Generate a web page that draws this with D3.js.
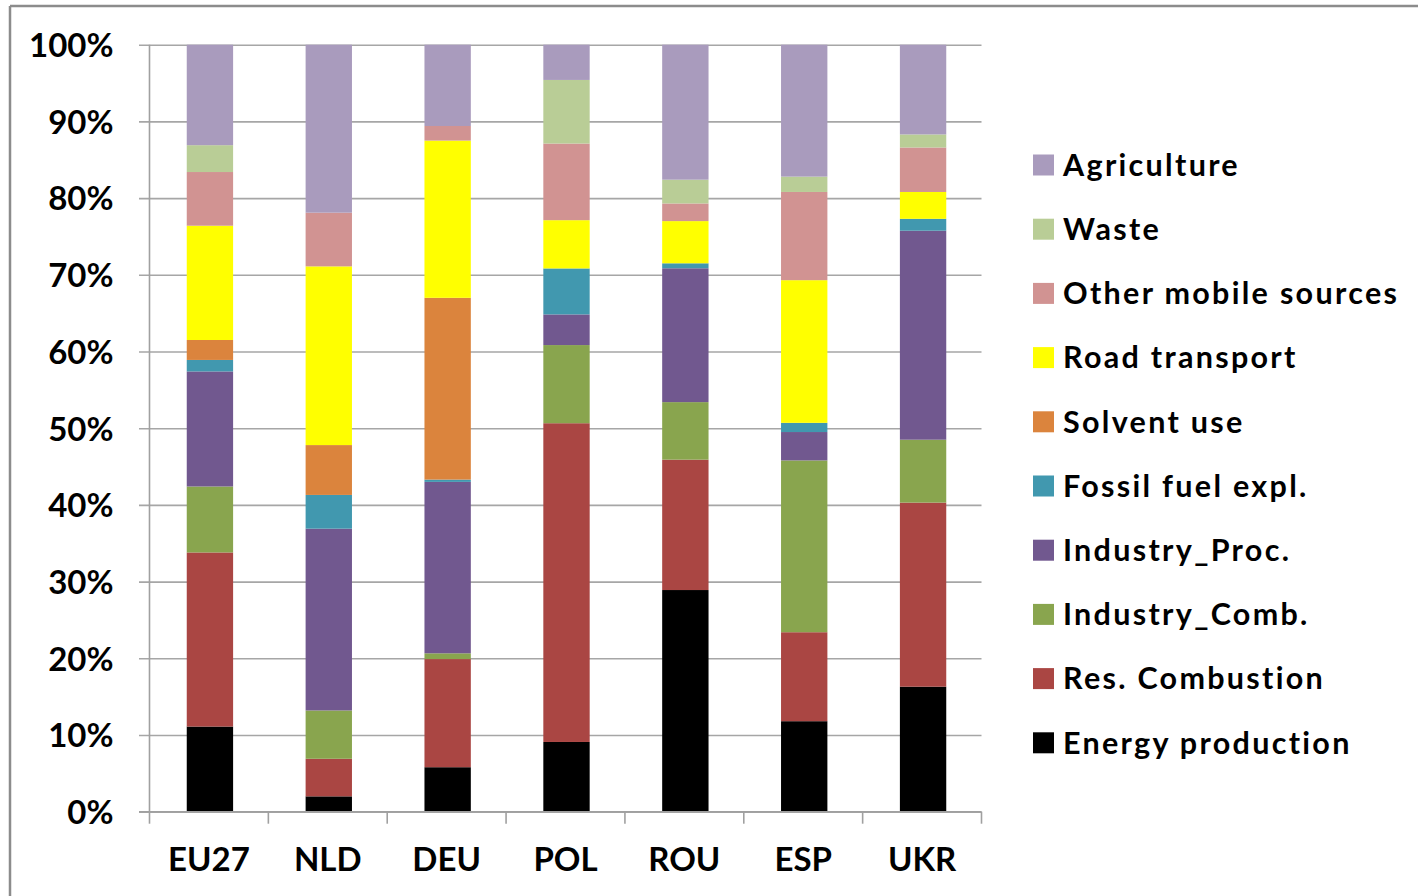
<!DOCTYPE html>
<html>
<head>
<meta charset="utf-8">
<script src="https://cdn.jsdelivr.net/npm/d3@7/dist/d3.min.js"></script>
<style>
  html, body { margin: 0; padding: 0; background: #fff; }
  svg { display: block; }
  text { font-family: Lato, "Open Sans", sans-serif; font-weight: 700; fill: #000; }
</style>
</head>
<body>
<svg id="chart" width="1418" height="896"></svg>
<script>
// Countries / aggregates along the x axis
const countries = ["EU27", "NLD", "DEU", "POL", "ROU", "ESP", "UKR"];

// Emission sectors, stacked from the bottom up
const sectors = [
  "Energy production", "Res. Combustion", "Industry_Comb.", "Industry_Proc.",
  "Fossil fuel expl.", "Solvent use", "Road transport", "Other mobile sources",
  "Waste", "Agriculture"
];

// Share of each sector (%), one value per country in the order above
const energyProduction   = [11.1,  2.0,  5.8,  9.1, 28.9, 11.8, 16.3];
const resCombustion      = [22.7,  4.9, 14.1, 41.6, 17.0, 11.6, 24.0];
const industryComb       = [ 8.6,  6.3, 0.75, 10.2,  7.5, 22.4,  8.2];
const industryProc       = [15.0, 23.7, 22.35, 4.0, 17.45, 3.7, 27.25];
const fossilFuelExpl     = [ 1.5,  4.4,  0.3,  6.0, 0.65,  1.2, 1.55];
const solventUse         = [ 2.6,  6.5, 23.7,  0.0,  0.0,  0.0,  0.0];
const roadTransport      = [14.9, 23.3, 20.5,  6.3,  5.5, 18.6,  3.5];
const otherMobile        = [ 7.0,  7.0,  1.9, 10.0,  2.3, 11.5,  5.8];
const waste              = [ 3.5,  0.0,  0.0,  8.3,  3.1,  2.0,  1.7];
const agriculture        = [13.1, 21.9, 10.6,  4.6, 17.6, 17.2, 11.7];

const seriesValues = [
  energyProduction, resCombustion, industryComb, industryProc, fossilFuelExpl,
  solventUse, roadTransport, otherMobile, waste, agriculture
];

const sectorColors = [
  "#000000", "#AA4643", "#89A54E", "#71588F", "#4198AF",
  "#DB843D", "#FFFF00", "#D19392", "#B9CD96", "#A99BBD"
];

const yTicks = [0, 10, 20, 30, 40, 50, 60, 70, 80, 90, 100];

// Build row objects for d3.stack
const rows = countries.map((c, i) => {
  const r = { country: c };
  sectors.forEach((s, k) => { r[s] = seriesValues[k][i]; });
  return r;
});

const stacked = d3.stack()
  .keys(sectors)
  .offset(d3.stackOffsetExpand)(rows);

const svg = d3.select("#chart");

// Outer frame of the chart area
svg.append("line").attr("x1", 10).attr("x2", 1418).attr("y1", 6).attr("y2", 6)
  .attr("stroke", "#8c8c8c").attr("stroke-width", 2.5);
svg.append("line").attr("x1", 10).attr("x2", 10).attr("y1", 6).attr("y2", 896)
  .attr("stroke", "#8c8c8c").attr("stroke-width", 2.5);

const plot = { left: 149.5, right: 981.5, top: 44.7, bottom: 811.7 };

const x = d3.scaleBand()
  .domain(countries)
  .range([plot.left, plot.right])
  .paddingInner(0).paddingOuter(0);

const y = d3.scaleLinear()
  .domain([0, 1])
  .range([plot.bottom, plot.top]);

const barWidth = x.bandwidth() * 0.39;

// Horizontal gridlines with left tick stubs
const yAxis = d3.axisLeft(y)
  .tickValues(yTicks.map(t => t / 100))
  .tickSize(-(plot.right - plot.left))
  .tickFormat(d => Math.round(d * 100) + "%")
  .tickPadding(36);

const gy = svg.append("g")
  .attr("transform", `translate(${plot.left},0)`)
  .call(yAxis);
gy.select(".domain").remove();
gy.selectAll(".tick line")
  .attr("x1", -10.5)
  .attr("stroke", "#a6a6a6").attr("stroke-width", 1.6);
gy.selectAll(".tick text")
  .attr("font-size", 33)
  .attr("font-family", "Lato, sans-serif")
  .attr("font-weight", 700)
  .attr("fill", "#000")
  .attr("dy", "0.36em");

// Vertical axis line
svg.append("line")
  .attr("x1", plot.left).attr("x2", plot.left)
  .attr("y1", plot.top).attr("y2", plot.bottom)
  .attr("stroke", "#a0a0a0").attr("stroke-width", 1.6);

// Stacked bars
svg.append("g")
  .selectAll("g")
  .data(stacked)
  .join("g")
  .attr("fill", (d, i) => sectorColors[i])
  .selectAll("rect")
  .data(d => d)
  .join("rect")
  .attr("x", d => x(d.data.country) + (x.bandwidth() - barWidth) / 2 + 1)
  .attr("width", barWidth)
  .attr("y", d => y(d[1]))
  .attr("height", d => Math.max(0, y(d[0]) - y(d[1])));

// Category axis with boundary ticks
const gx = svg.append("g")
  .attr("transform", `translate(0,${plot.bottom})`);
gx.append("line")
  .attr("x1", plot.left - 10.5).attr("x2", plot.right)
  .attr("stroke", "#a0a0a0").attr("stroke-width", 1.6);
const boundaries = countries.map(c => x(c)).concat([plot.right]);
gx.selectAll("line.tick")
  .data(boundaries)
  .join("line")
  .attr("class", "tick")
  .attr("x1", d => d).attr("x2", d => d)
  .attr("y1", 0).attr("y2", 12)
  .attr("stroke", "#a0a0a0").attr("stroke-width", 1.6);
gx.selectAll("text")
  .data(countries)
  .join("text")
  .attr("x", d => x(d) + x.bandwidth() / 2)
  .attr("y", 59)
  .attr("text-anchor", "middle")
  .attr("font-size", 33)
  .text(d => d);

// Legend, top entry is the top of the stack
const legendOrder = sectors.slice().reverse();
const legendColors = sectorColors.slice().reverse();
const legend = svg.append("g").attr("transform", "translate(1033,165)");
const item = legend.selectAll("g")
  .data(legendOrder)
  .join("g")
  .attr("transform", (d, i) => `translate(0,${i * 64.2})`);
item.append("rect")
  .attr("x", 0).attr("y", -10.5)
  .attr("width", 21).attr("height", 21)
  .attr("fill", (d, i) => legendColors[i]);
item.append("text")
  .attr("x", 30)
  .attr("y", 10.8)
  .attr("font-size", 30.5)
  .attr("letter-spacing", 2.3)
  .text(d => d);
</script>
</body>
</html>
